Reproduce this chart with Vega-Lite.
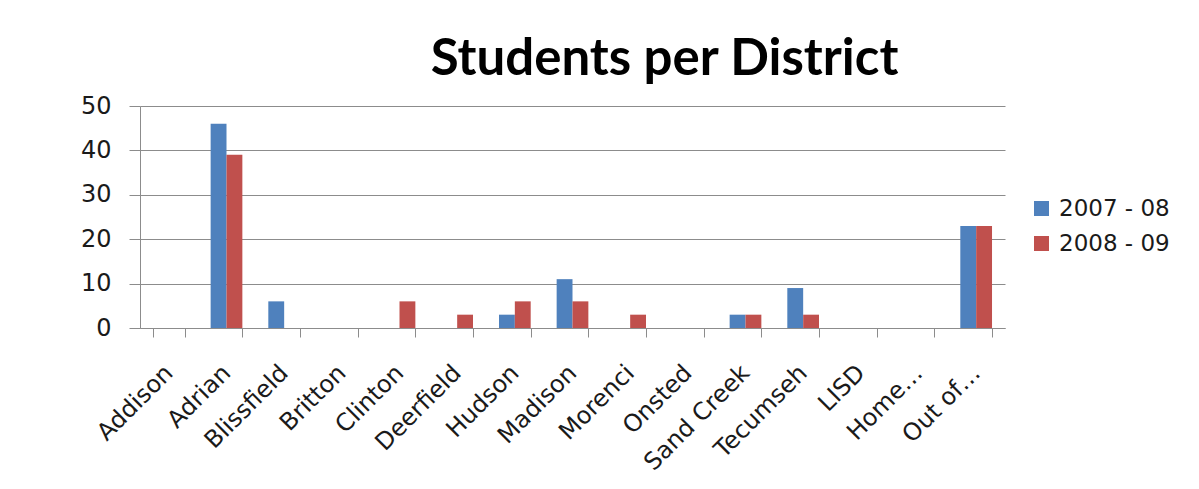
{
  "$schema": "https://vega.github.io/schema/vega-lite/v6.json",
  "autosize": "none",
  "width": 865,
  "height": 222,
  "padding": {"left": 140, "top": 106, "right": 194, "bottom": 161},
  "background": "white",
  "title": {
    "text": "Students per District",
    "font": "Lato",
    "fontSize": 51,
    "fontWeight": "bold",
    "color": "#000000",
    "anchor": "middle",
    "frame": "group",
    "dx": 92,
    "offset": 8
  },
  "data": {
    "values": [
      {"district": "Addison", "season": "2007 - 08", "students": 0},
      {"district": "Addison", "season": "2008 - 09", "students": 0},
      {"district": "Adrian", "season": "2007 - 08", "students": 46},
      {"district": "Adrian", "season": "2008 - 09", "students": 39},
      {"district": "Blissfield", "season": "2007 - 08", "students": 6},
      {"district": "Blissfield", "season": "2008 - 09", "students": 0},
      {"district": "Britton", "season": "2007 - 08", "students": 0},
      {"district": "Britton", "season": "2008 - 09", "students": 0},
      {"district": "Clinton", "season": "2007 - 08", "students": 0},
      {"district": "Clinton", "season": "2008 - 09", "students": 6},
      {"district": "Deerfield", "season": "2007 - 08", "students": 0},
      {"district": "Deerfield", "season": "2008 - 09", "students": 3},
      {"district": "Hudson", "season": "2007 - 08", "students": 3},
      {"district": "Hudson", "season": "2008 - 09", "students": 6},
      {"district": "Madison", "season": "2007 - 08", "students": 11},
      {"district": "Madison", "season": "2008 - 09", "students": 6},
      {"district": "Morenci", "season": "2007 - 08", "students": 0},
      {"district": "Morenci", "season": "2008 - 09", "students": 3},
      {"district": "Onsted", "season": "2007 - 08", "students": 0},
      {"district": "Onsted", "season": "2008 - 09", "students": 0},
      {"district": "Sand Creek", "season": "2007 - 08", "students": 3},
      {"district": "Sand Creek", "season": "2008 - 09", "students": 3},
      {"district": "Tecumseh", "season": "2007 - 08", "students": 9},
      {"district": "Tecumseh", "season": "2008 - 09", "students": 3},
      {"district": "LISD", "season": "2007 - 08", "students": 0},
      {"district": "LISD", "season": "2008 - 09", "students": 0},
      {"district": "Home…", "season": "2007 - 08", "students": 0},
      {"district": "Home…", "season": "2008 - 09", "students": 0},
      {"district": "Out of…", "season": "2007 - 08", "students": 23},
      {"district": "Out of…", "season": "2008 - 09", "students": 23}
    ]
  },
  "mark": {"type": "bar"},
  "encoding": {
    "x": {
      "field": "district",
      "type": "nominal",
      "sort": null,
      "title": null,
      "scale": {"paddingInner": 0.45, "paddingOuter": 0.225},
      "axis": {
        "labelAngle": -45,
        "labelAlign": "right",
        "labelBaseline": "middle",
        "labelFont": "DejaVu Sans",
        "labelFontSize": 24,
        "labelColor": "#1a1a1a",
        "labelPadding": 32,
        "labelLimit": 300,
        "tickBand": "extent",
        "tickSize": 9,
        "tickColor": "#8c8c8c",
        "domainColor": "#8c8c8c",
        "grid": false
      }
    },
    "xOffset": {"field": "season", "type": "nominal", "scale": {"paddingInner": 0, "paddingOuter": 0}},
    "y": {
      "field": "students",
      "type": "quantitative",
      "title": null,
      "scale": {"domain": [0, 50], "nice": false},
      "axis": {
        "values": [0, 10, 20, 30, 40, 50],
        "labelFont": "DejaVu Sans",
        "labelFontSize": 24,
        "labelColor": "#1a1a1a",
        "labelPadding": 18,
        "tickSize": 11,
        "tickColor": "#8c8c8c",
        "domainColor": "#8c8c8c",
        "gridColor": "#8c8c8c",
        "grid": true
      }
    },
    "color": {
      "field": "season",
      "type": "nominal",
      "title": null,
      "scale": {"domain": ["2007 - 08", "2008 - 09"], "range": ["#4f81bd", "#c0504d"]},
      "legend": {
        "orient": "none",
        "legendX": 890,
        "legendY": 91,
        "padding": 0,
        "symbolType": "square",
        "symbolSize": 225,
        "symbolStrokeWidth": 0,
        "labelFont": "DejaVu Sans",
        "labelFontSize": 23,
        "labelColor": "#1a1a1a",
        "labelOffset": 6,
        "rowPadding": 11
      }
    }
  },
  "config": {
    "view": {"stroke": null},
    "axis": {"domainWidth": 1, "tickWidth": 1, "gridWidth": 1}
  }
}
